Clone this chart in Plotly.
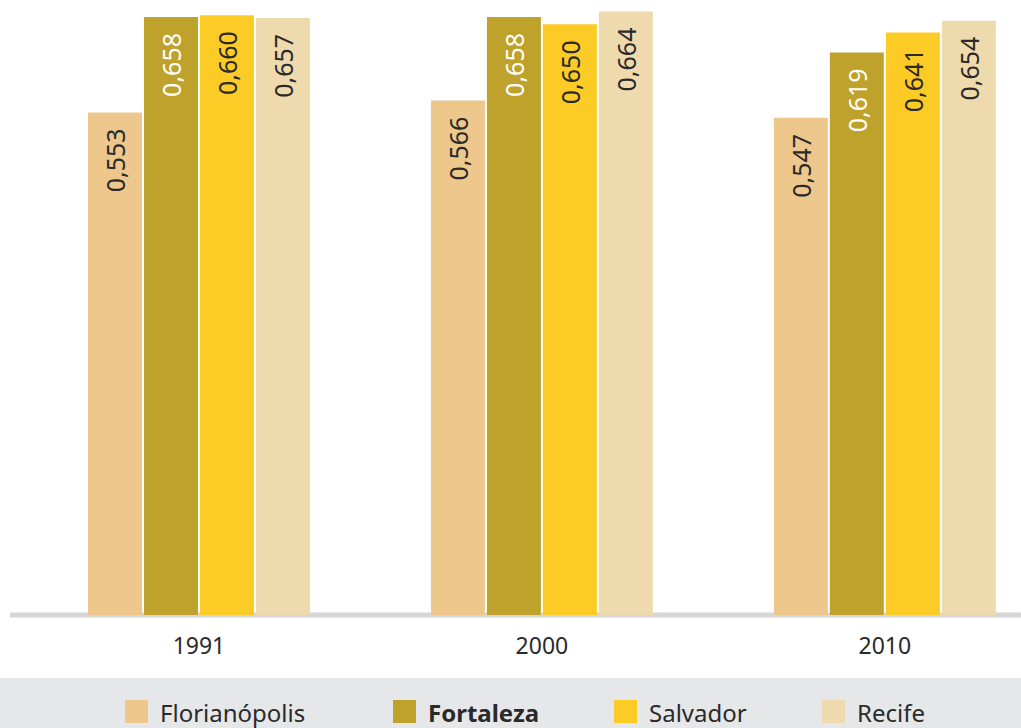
import plotly.graph_objects as go

years = ["1991", "2000", "2010"]
series = ["Florianópolis", "Fortaleza", "Salvador", "Recife"]
values = {
    "Florianópolis": [0.553, 0.566, 0.547],
    "Fortaleza": [0.658, 0.658, 0.619],
    "Salvador": [0.660, 0.650, 0.641],
    "Recife": [0.657, 0.664, 0.654],
}
colors = {
    "Florianópolis": "#eec78c",
    "Fortaleza": "#bfa22b",
    "Salvador": "#fccb26",
    "Recife": "#efdaae",
}
label_colors = {
    "Florianópolis": "#2a2a2a",
    "Fortaleza": "#ffffff",
    "Salvador": "#2a2a2a",
    "Recife": "#2a2a2a",
}
legend_bold = {"Fortaleza"}

FONT = "Noto Sans"
xs = list(range(len(years)))

fig = go.Figure()
for s in series:
    vals = values[s]
    fig.add_trace(go.Bar(
        x=xs, y=vals, name=s,
        marker=dict(color=colors[s], line=dict(width=0)),
        text=[f"{v:.3f}".replace(".", ",") + "\u00a0\u00a0" for v in vals],
        textposition="inside", insidetextanchor="end", textangle=-90,
        insidetextfont=dict(family=FONT, size=25, color=label_colors[s]),
        hoverinfo="skip", showlegend=False,
    ))

H_PLOT = 615
PLOT_W = 1011
shapes = [
    dict(type="line", xref="paper", yref="paper", x0=0, x1=1, y0=0, y1=0,
         line=dict(color="#d6d6d6", width=5), layer="below"),
    dict(type="rect", xref="paper", yref="paper", x0=-0.02, x1=1.02,
         y0=(H_PLOT - 730) / H_PLOT, y1=(H_PLOT - 678) / H_PLOT,
         fillcolor="#e6e7e9", line=dict(width=0), layer="below"),
]
annotations = []
sq_left = [125, 393, 614, 822]
for i, s in enumerate(series):
    shapes.append(dict(type="rect", xref="paper", yref="paper",
                       x0=(sq_left[i] - 10) / PLOT_W, x1=(sq_left[i] + 23 - 10) / PLOT_W,
                       y0=(H_PLOT - 723) / H_PLOT, y1=(H_PLOT - 700) / H_PLOT,
                       fillcolor=colors[s], line=dict(width=0)))
    txt = f"<b>{s}</b>" if s in legend_bold else s
    annotations.append(dict(xref="paper", yref="paper",
                            x=(sq_left[i] + 33 - 10) / PLOT_W, y=(H_PLOT - 712) / H_PLOT,
                            xanchor="left", yanchor="middle", text=txt, showarrow=False,
                            font=dict(family=FONT, size=24, color="#2a2a2a")))

fig.update_layout(
    width=1021, height=728,
    margin=dict(l=10, r=0, t=0, b=728 - H_PLOT),
    paper_bgcolor="white", plot_bgcolor="white",
    barmode="group", bargap=0.347, bargroupgap=0.036,
    xaxis=dict(range=[-0.551, 2.397], tickvals=xs, ticktext=years,
               showgrid=False, zeroline=False, showline=False,
               ticks="outside", ticklen=10, tickcolor="rgba(0,0,0,0)",
               tickfont=dict(family=FONT, size=23, color="#2a2a2a")),
    yaxis=dict(range=[0, 0.6767], visible=False, showgrid=False, zeroline=False),
    shapes=shapes, annotations=annotations,
    showlegend=False,
)

fig.write_html("out.html", config={"displayModeBar": False, "staticPlot": True},
               post_script="document.body.style.margin='0';document.body.style.padding='0';document.body.style.overflow='hidden';")
